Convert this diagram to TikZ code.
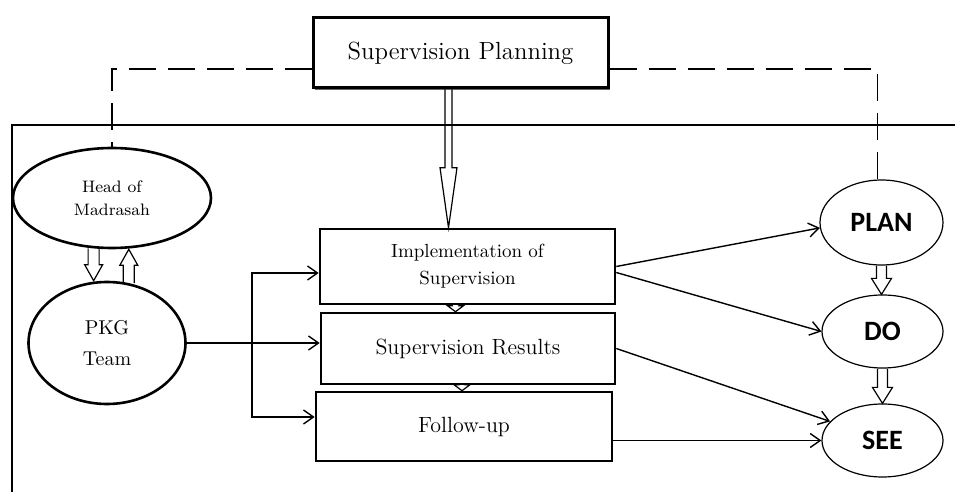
\documentclass[tikz,border=0pt]{standalone}
\usepackage{fontspec}
\newfontfamily\calibri{Carlito}
\usetikzlibrary{arrows.meta,shapes.geometric,shadows,calc}
\tikzset{hshaft/.store in=\hshaft, hwidth/.store in=\hwidth, hlength/.store in=\hlength,
  hshaft=2.5pt, hwidth=5pt, hlength=8pt}

\begin{document}
\begin{tikzpicture}[x=0.5pt, y=-0.5pt,
    stagebox/.style={rectangle, draw, line width=1.3pt, inner sep=0pt, align=center, font=\fontsize{11}{13}\selectfont},
    actor/.style={ellipse, draw, line width=1.3pt, inner sep=0pt, align=center},
    phase/.style={ellipse, draw, line width=0.6pt, inner sep=0pt, font=\calibri\bfseries\fontsize{14}{16}\selectfont},
    flowarrow/.style={-{Straight Barb[length=5pt,width=7pt]}, line width=0.7pt},
    dashlink/.style={dash pattern=on 13.5pt off 6pt, line width=0.7pt},
    hollow/.style={draw, line width=0.6pt, to path={let \p1=(\tikztostart), \p2=(\tikztotarget),
      \n1={ifthenelse(\y1>\y2,1,-1)} in
      ({\x1-\hshaft},\y1) -- ({\x1-\hshaft},{\y2+(\n1)*\hlength}) -- ({\x1-\hwidth},{\y2+(\n1)*\hlength})
      -- (\x1,\y2) -- ({\x1+\hwidth},{\y2+(\n1)*\hlength}) -- ({\x1+\hshaft},{\y2+(\n1)*\hlength})
      -- ({\x1+\hshaft},\y1)}}]
   \useasboundingbox (0,0) rectangle (955,492);
   % open frame
   \draw[line width=0.6pt] (955,125) -- (12,125) -- (12,492);

   \node[stagebox, fill=white, line width=1.5pt, minimum width=147.5pt, minimum height=35pt,
     font=\fontsize{12.4}{14}\selectfont,
     drop shadow={shadow xshift=0.8pt, shadow yshift=-0.8pt, fill=black!60, opacity=1}] (planning) at (460.5,53) {\raisebox{2.5pt}{Supervision Planning}};
   \node[stagebox, minimum width=147.5pt, minimum height=37.5pt, font=\fontsize{9.5}{13.5}\selectfont] (impl) at (467.5,266.5) {Implementation of\\Supervision};
   \node[stagebox, minimum width=147pt, minimum height=35.5pt] (results) at (468,348.5) {Supervision Results};
   \node[stagebox, minimum width=148pt, minimum height=34.5pt] (follow) at (464,426.5) {Follow-up};
   \node[actor, minimum width=99pt, minimum height=50pt, font=\fontsize{8.3}{11.5}\selectfont] (head) at (112,198) {Head of\\Madrasah};
   \node[actor, minimum width=78.5pt, minimum height=61pt, font=\fontsize{10}{15.5}\selectfont] (pkg) at (107,343) {PKG\\Team};
   \node[phase, minimum width=61.5pt, minimum height=42.5pt] (plan) at (881.5,222.5) {PLAN};
   \node[phase, minimum width=60.5pt, minimum height=36.5pt] (do) at (882.5,331.5) {DO};
   \node[phase, minimum width=60.5pt, minimum height=36.5pt] (see) at (882.5,440.5) {SEE};

   % dashed links
   \draw[dashlink] ([yshift=-8pt]planning.west) -| (head.north);
   \draw[dashlink] ([yshift=-8pt]planning.east) -| (plan.95);

   % hollow arrows
   \draw[hollow, hshaft=1.75pt, hwidth=4.25pt, hlength=30pt] ([xshift=-6pt]planning.south) to (impl.north);
   \draw[hollow, hshaft=2.75pt, hwidth=4.5pt] (head.250) to (pkg.north);
   \draw[hollow, hshaft=2.75pt, hwidth=4.5pt] (pkg.70) to (head.south);
   \draw[hollow, hshaft=1.5pt, hwidth=4pt, hlength=3pt] ([xshift=-6pt]impl.south) to ([xshift=-6pt]results.north);
   \draw[hollow, hshaft=1.5pt, hwidth=4pt, hlength=3pt] ([xshift=-3pt]results.south) to ([xshift=-3pt]follow.north);
   \draw[hollow] (plan.south) to (do.north);
   \draw[hollow] (do.south) to (see.north);

   % flow arrows
   \coordinate (split) at (252,343);
   \draw[flowarrow] (pkg.east) -- (results.west |- pkg.east);
   \draw[flowarrow] (split) |- ([yshift=-3.25pt]impl.west);
   \draw[flowarrow] (split) |- ([yshift=4.75pt]follow.west);
   \draw[flowarrow] (impl.east) -- (plan.185);
   \draw[flowarrow] ([yshift=-3pt]impl.east) -- (do.west);
   \draw[flowarrow] (results.east) -- (see.160);
   \draw[flowarrow] ([yshift=-7pt]follow.east) -- (see.west);
\end{tikzpicture}
\end{document}
